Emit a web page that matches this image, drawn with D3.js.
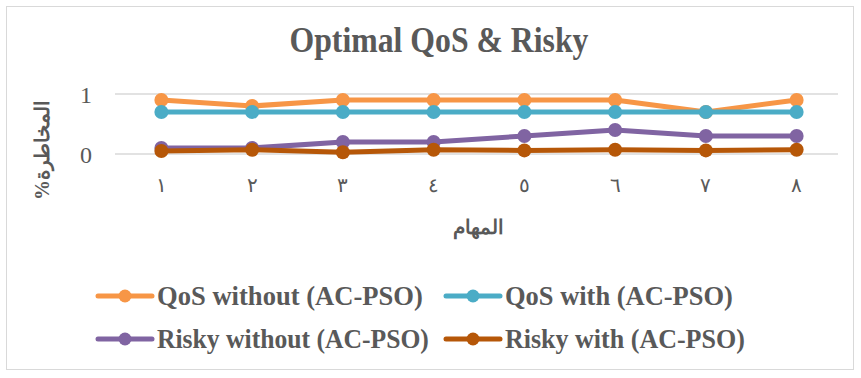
<!DOCTYPE html>
<html>
<head>
<meta charset="utf-8">
<script src="https://cdn.jsdelivr.net/npm/d3@7"></script>
<style>
  html, body { margin: 0; padding: 0; background: #fff; }
  svg { display: block; }
</style>
</head>
<body>
<svg id="chart" width="861" height="378"></svg>
<script>
// Tasks on the x axis (Arabic-Indic numerals)
const categories = ["١", "٢", "٣", "٤", "٥", "٦", "٧", "٨"];
const yTicks = [0, 1];

const qosWithout   = [0.9, 0.8, 0.9, 0.9, 0.9, 0.9, 0.7, 0.9];
const qosWith      = [0.7, 0.7, 0.7, 0.7, 0.7, 0.7, 0.7, 0.7];
const riskyWithout = [0.1, 0.1, 0.2, 0.2, 0.3, 0.4, 0.3, 0.3];
const riskyWith    = [0.05, 0.07, 0.03, 0.07, 0.06, 0.07, 0.06, 0.07];

const seriesNames  = ["QoS without (AC-PSO)", "QoS with (AC-PSO)", "Risky without (AC-PSO)", "Risky with (AC-PSO)"];
const seriesColors = ["#F79646", "#4BACC6", "#8064A2", "#B65708"];
const seriesValues = [qosWithout, qosWith, riskyWithout, riskyWith];

const svg = d3.select("#chart");
const serif = "Liberation Serif, Times New Roman, serif";
const textGray = "#595959";

// narrow a text horizontally to a given width, keeping its x position
function fitWidth(sel, width) {
  const w = sel.node().getComputedTextLength();
  if (w > 0) {
    const k = width / w;
    const x0 = +sel.attr("x");
    sel.attr("transform", `translate(${x0},0) scale(${k},1) translate(${-x0},0)`);
  }
  return sel;
}

// outer frame
svg.append("rect")
  .attr("x", 6.5).attr("y", 6.5).attr("width", 847).attr("height", 363)
  .attr("fill", "#fff").attr("stroke", "#d9d9d9").attr("stroke-width", 1);

// title
const title = svg.append("text")
  .attr("x", 439).attr("y", 52)
  .style("text-anchor", "middle")
  .style("font-family", serif).style("font-weight", "bold")
  .style("font-size", "35px").style("fill", textGray)
  .text("Optimal QoS & Risky");
fitWidth(title, 299);

const x = d3.scaleBand().domain(categories).range([116, 842]);
const y = d3.scaleLinear().domain([0, 1]).range([154, 94]);

// gridlines
svg.append("g").selectAll("line").data(yTicks).join("line")
  .attr("x1", 115).attr("x2", 838)
  .attr("y1", d => y(d)).attr("y2", d => y(d))
  .attr("stroke", "#d9d9d9").attr("stroke-width", 1.5);

// y axis
const yAxis = svg.append("g")
  .attr("transform", "translate(92,0)")
  .call(d3.axisLeft(y).tickValues(yTicks).tickSize(0).tickPadding(0).tickFormat(d3.format("d")));
yAxis.select(".domain").remove();
yAxis.selectAll("text")
  .attr("dy", "0.36em")
  .style("font-family", serif).style("font-size", "24px").style("fill", textGray);

// x axis
const xAxis = svg.append("g")
  .attr("transform", "translate(0,178)")
  .call(d3.axisBottom(x).tickSize(0).tickPadding(0));
xAxis.select(".domain").remove();
xAxis.selectAll("text")
  .style("font-family", serif).style("font-size", "20px").style("fill", textGray);

// axis titles
svg.append("text")
  .attr("transform", "translate(49,150) rotate(-90)")
  .style("text-anchor", "middle")
  .style("font-family", serif).style("font-weight", "bold")
  .style("font-size", "20px").style("fill", textGray)
  .text("%المخاطرة");

svg.append("text")
  .attr("x", 478).attr("y", 234)
  .style("text-anchor", "middle")
  .style("font-family", serif).style("font-weight", "bold")
  .style("font-size", "20px").style("fill", textGray)
  .text("المهام");

// series lines and markers
const cx = i => x(categories[i]) + x.bandwidth() / 2;
const line = d3.line().x((d, i) => cx(i)).y(d => y(d));

seriesValues.forEach((vals, s) => {
  const g = svg.append("g");
  g.append("path")
    .datum(vals)
    .attr("d", line)
    .attr("fill", "none")
    .attr("stroke", seriesColors[s])
    .attr("stroke-width", 5)
    .attr("stroke-linejoin", "round");
  g.selectAll("circle").data(vals).join("circle")
    .attr("cx", (d, i) => cx(i))
    .attr("cy", d => y(d))
    .attr("r", 7)
    .attr("fill", seriesColors[s]);
});

// legend
const legendPos = [[97, 296], [445, 296], [97, 339], [445, 339]];
const legendWidths = [266, 228, 272, 240];
seriesNames.forEach((name, s) => {
  const [lx, ly] = legendPos[s];
  const g = svg.append("g").attr("transform", `translate(${lx},${ly})`);
  g.append("line").attr("x1", 1).attr("x2", 55).attr("y1", 0).attr("y2", 0)
    .attr("stroke", seriesColors[s]).attr("stroke-width", 5).attr("stroke-linecap", "round");
  g.append("circle").attr("cx", 28).attr("cy", 0).attr("r", 6.5).attr("fill", seriesColors[s]);
  const t = g.append("text")
    .attr("x", 60).attr("y", 9)
    .style("font-family", serif).style("font-weight", "bold")
    .style("font-size", "28px").style("fill", textGray)
    .text(name);
  fitWidth(t, legendWidths[s]);
});
</script>
</body>
</html>
